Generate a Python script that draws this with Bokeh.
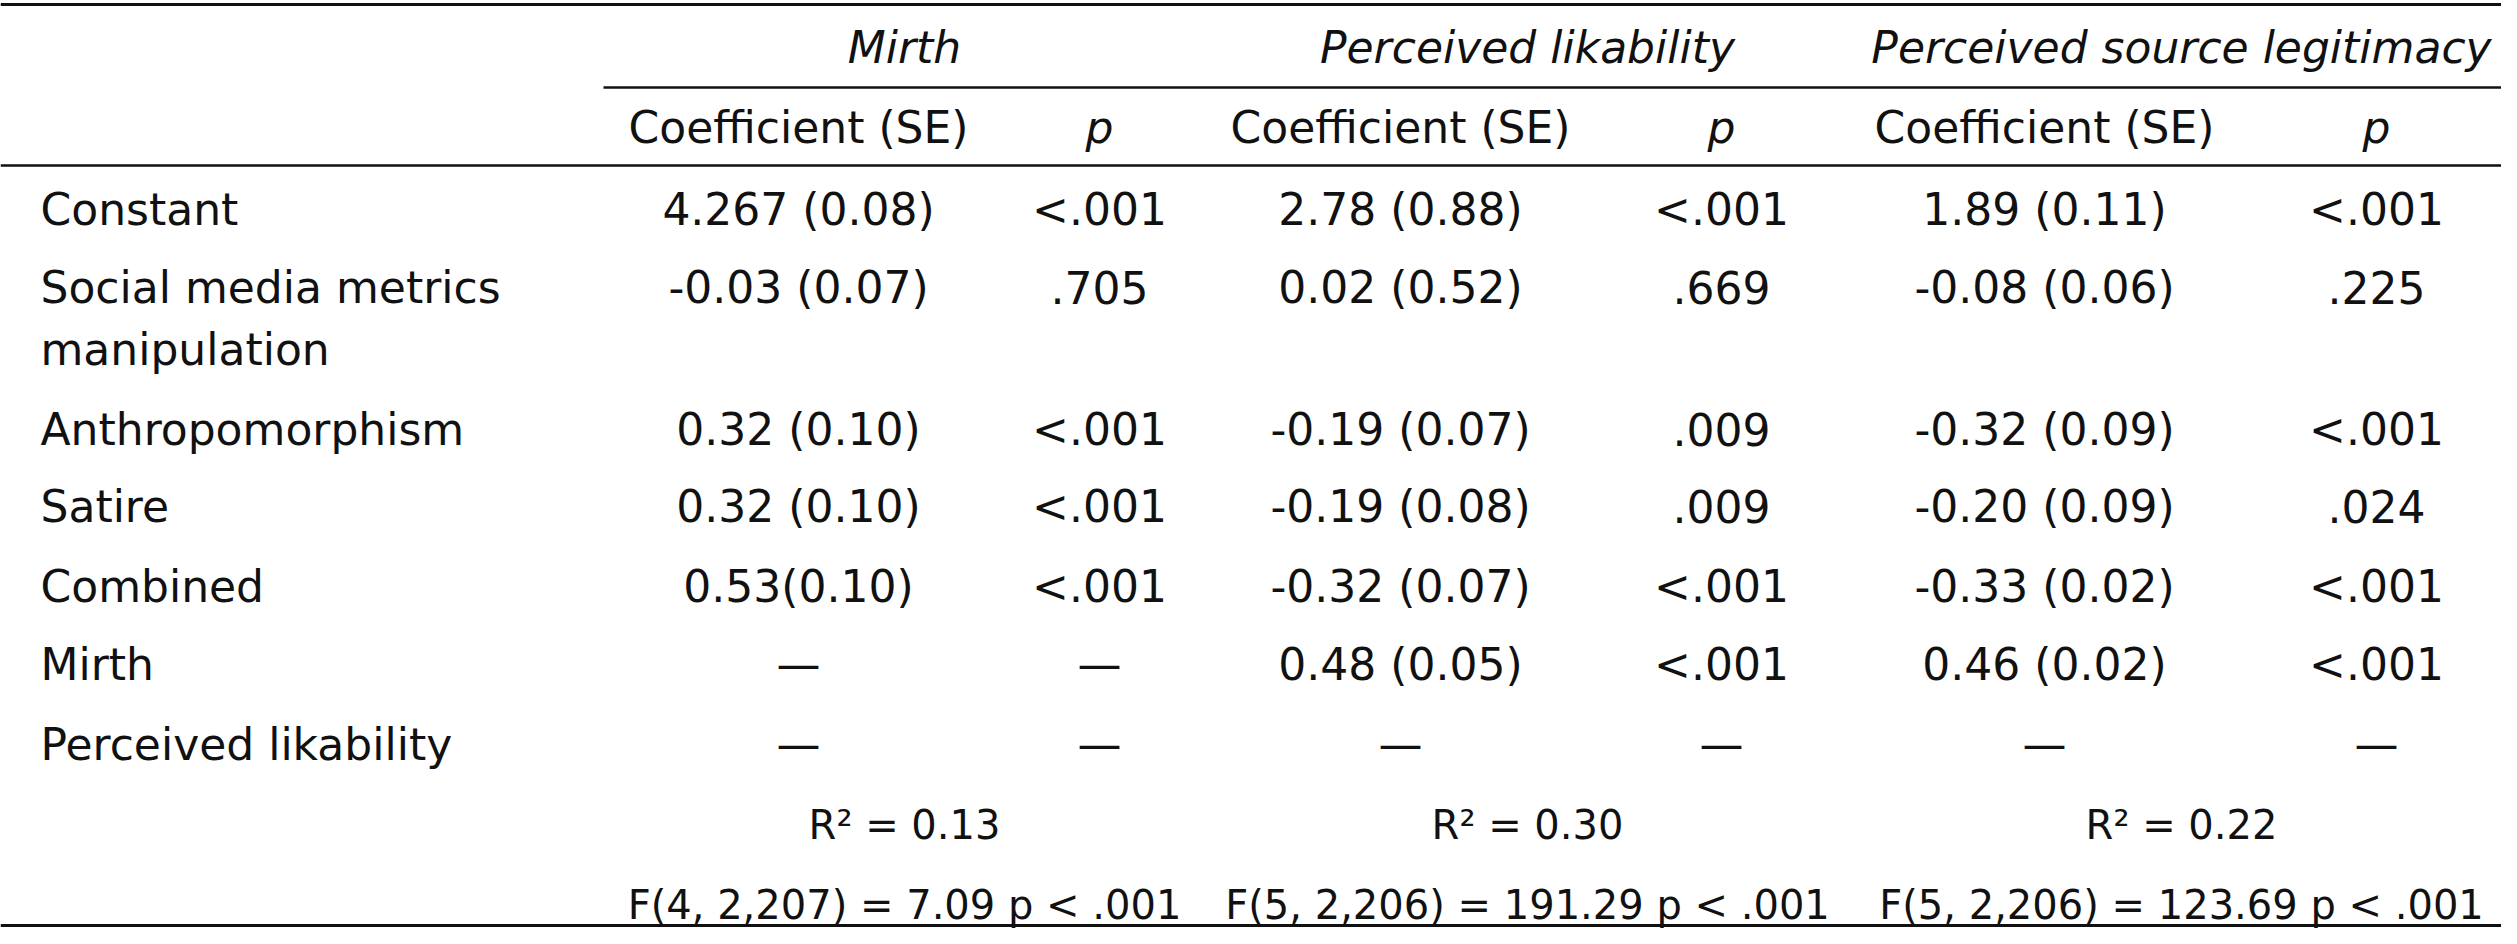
from bokeh.plotting import figure
from bokeh.models import ColumnDataSource, Range1d
from bokeh.core.properties import value
from bokeh.embed import file_html
from bokeh.resources import INLINE

# ---------------- data ----------------
models = ["Mirth", "Perceived likability", "Perceived source legitimacy"]
sub_headers = ["Coefficient (SE)", "p"]
row_labels = ["Constant", "Social media metrics\nmanipulation", "Anthropomorphism",
              "Satire", "Combined", "Mirth", "Perceived likability"]
mirth_coef = ["4.267 (0.08)", "-0.03 (0.07)", "0.32 (0.10)", "0.32 (0.10)", "0.53(0.10)", "—", "—"]
mirth_p = ["<.001", ".705", "<.001", "<.001", "<.001", "—", "—"]
lik_coef = ["2.78 (0.88)", "0.02 (0.52)", "-0.19 (0.07)", "-0.19 (0.08)", "-0.32 (0.07)", "0.48 (0.05)", "—"]
lik_p = ["<.001", ".669", ".009", ".009", "<.001", "<.001", "—"]
leg_coef = ["1.89 (0.11)", "-0.08 (0.06)", "-0.32 (0.09)", "-0.20 (0.09)", "-0.33 (0.02)", "0.46 (0.02)", "—"]
leg_p = ["<.001", ".225", "<.001", ".024", "<.001", "<.001", "—"]
r_squared = ["R² = 0.13", "R² = 0.30", "R² = 0.22"]
f_stats = ["F(4, 2,207) = 7.09 p < .001", "F(5, 2,206) = 191.29 p < .001",
           "F(5, 2,206) = 123.69 p < .001"]

# ---------------- layout ----------------
W, H = 2501, 928
FONT = "DejaVu Sans"
FS = "44px"
FS_SMALL = "40px"
COLOR = "#111111"
TXT_DY = -13          # correction of the rendered baseline
label_x = 40
col_x = [798, 1099, 1400, 1721, 2044, 2376]
group_x = [904, 1527, 2181]
header_y = 60
sub_y = 140
row_y = [222, 300, 442, 519, 599, 677, 757]
line_gap = 62
r2_y = 837
f_y = 917

p = figure(width=W, height=H, output_backend="svg", toolbar_location=None,
           x_range=Range1d(0, W), y_range=Range1d(H, 0),
           min_border=0, outline_line_color=None)
p.axis.visible = False
p.grid.visible = False
p.background_fill_color = "white"
p.border_fill_color = "white"


def txt(xs, ys, texts, align="center", style="normal", size=FS):
    src = ColumnDataSource(dict(x=xs, y=[v + TXT_DY for v in ys], t=texts))
    p.text(x="x", y="y", text="t", source=src, text_align=align,
           text_baseline="alphabetic", text_font=value(FONT), text_font_size=size,
           text_color=COLOR, text_font_style=style)


# group headers
txt(group_x, [header_y] * 3, models, style="italic")
# sub headers
sub_texts = sub_headers * 3
txt(col_x[0::2], [sub_y] * 3, sub_texts[0::2])
txt(col_x[1::2], [sub_y] * 3, sub_texts[1::2], style="italic")

# row labels (split multi-line labels)
lx, ly, lt = [], [], []
for y, lab in zip(row_y, row_labels):
    for k, part in enumerate(lab.split("\n")):
        lx.append(label_x)
        ly.append(y + k * line_gap)
        lt.append(part)
txt(lx, ly, lt, align="left")

# cells
for cx, col in zip(col_x, [mirth_coef, mirth_p, lik_coef, lik_p, leg_coef, leg_p]):
    txt([cx] * len(col), row_y, col)

# fit stats
txt(group_x, [r2_y] * 3, r_squared, size=FS_SMALL)
txt(group_x, [f_y] * 3, f_stats, size=FS_SMALL)

# rules
p.segment(x0=[0, 603, 0, 0], y0=[4, 87, 165, 925],
          x1=[W] * 4, y1=[4, 87, 165, 925],
          line_color=COLOR, line_width=[3, 2.5, 2.5, 3])

open("out.html", "w").write(file_html(p, INLINE))
